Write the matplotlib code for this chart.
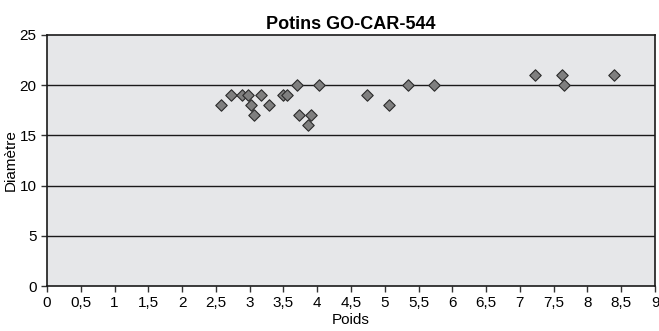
import matplotlib
matplotlib.use("Agg")
import matplotlib.pyplot as plt
from matplotlib import font_manager

# ── data ─────────────────────────────────────────────────────────────────────
poids = [2.58, 2.73, 2.88, 2.97, 3.02, 3.07, 3.17, 3.28, 3.50, 3.55, 3.70, 3.73,
         3.87, 3.91, 4.02, 4.73, 5.06, 5.35, 5.73, 7.23, 7.62, 7.66, 8.39]
diametre = [18, 19, 19, 19, 18, 17, 19, 18, 19, 19, 20, 17,
            16, 17, 20, 19, 18, 20, 20, 21, 21, 20, 21]

x_ticks = [i * 0.5 for i in range(19)]
x_labels = [("%g" % v).replace(".", ",") for v in x_ticks]
y_ticks = [0, 5, 10, 15, 20, 25]

# ── font ─────────────────────────────────────────────────────────────────────
names = {f.name for f in font_manager.fontManager.ttflist}
font = "Liberation Sans Narrow" if "Liberation Sans Narrow" in names else "Liberation Sans"
plt.rcParams["font.family"] = [font, "DejaVu Sans"]

fig = plt.figure(figsize=(6.59, 3.31), dpi=100)
ax = fig.add_axes([47 / 659, 45 / 331, 608 / 659, 251 / 331])
ax.set_facecolor("#e6e7e9")

for y in y_ticks[1:-1]:
    ax.axhline(y, color="#1a1a1a", lw=1.0, zorder=1)

ax.scatter(poids, diametre, marker="D", s=34, c="#7f7f7f",
           edgecolors="#2a2a2a", linewidths=0.8, zorder=3)

ax.set_xlim(0, 9)
ax.set_ylim(0, 25)
ax.set_xticks(x_ticks)
ax.set_xticklabels(x_labels)
ax.set_yticks(y_ticks)
ax.tick_params(axis="both", labelsize=11, length=4, width=1, color="#333333")
ax.tick_params(axis="x", pad=3)

for s in ax.spines.values():
    s.set_color("#1a1a1a")
    s.set_linewidth(1.2)

ax.set_title("Potins GO-CAR-544", fontsize=13, fontweight="bold", pad=4)
ax.set_xlabel("Poids", fontsize=11, labelpad=2)
ax.set_ylabel("Diamètre", fontsize=11, labelpad=1)

fig.savefig("out.png", dpi=100)
